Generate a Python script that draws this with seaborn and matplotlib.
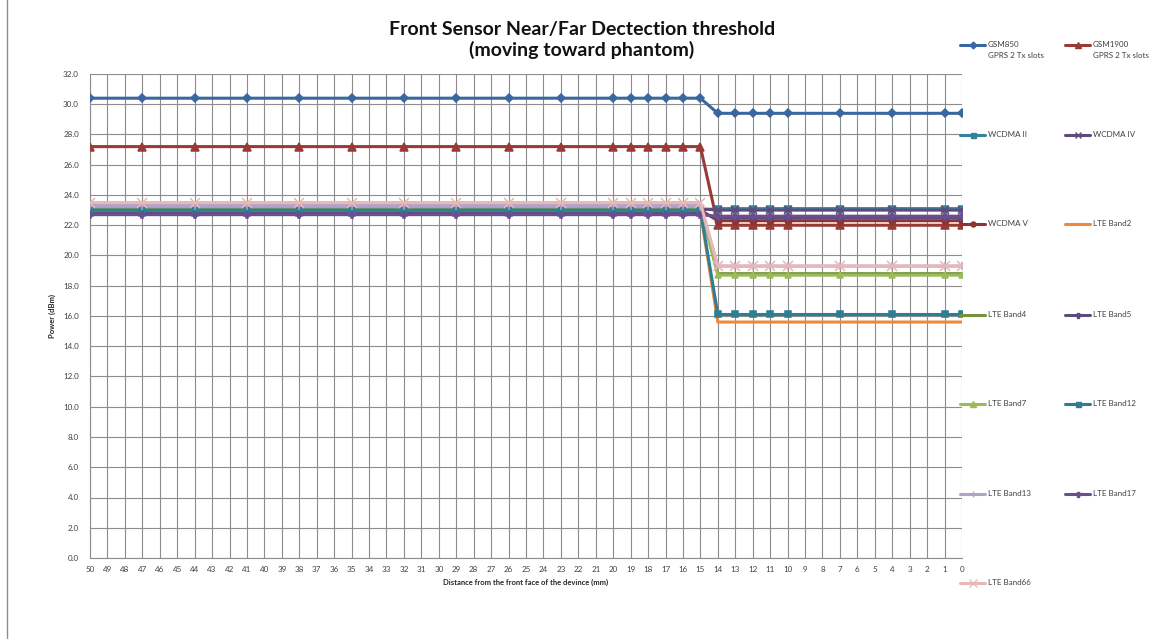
import matplotlib
matplotlib.use("Agg")
import matplotlib.pyplot as plt
from matplotlib.lines import Line2D
from matplotlib.ticker import MultipleLocator, FormatStrFormatter
import pandas as pd
import seaborn as sns

# distance points (mm) that were measured
distance = [50, 47, 44, 41, 38, 35, 32, 29, 26, 23, 20, 19, 18, 17, 16, 15,
            14, 13, 12, 11, 10, 7, 4, 1, 0]

gsm850 = [30.4, 30.4, 30.4, 30.4, 30.4, 30.4, 30.4, 30.4, 30.4, 30.4, 30.4, 30.4, 30.4, 30.4, 30.4, 30.4,
          29.4, 29.4, 29.4, 29.4, 29.4, 29.4, 29.4, 29.4, 29.4]
gsm1900 = [27.2, 27.2, 27.2, 27.2, 27.2, 27.2, 27.2, 27.2, 27.2, 27.2, 27.2, 27.2, 27.2, 27.2, 27.2, 27.2,
           22.0, 22.0, 22.0, 22.0, 22.0, 22.0, 22.0, 22.0, 22.0]
wcdma2 = [23.0, 23.0, 23.0, 23.0, 23.0, 23.0, 23.0, 23.0, 23.0, 23.0, 23.0, 23.0, 23.0, 23.0, 23.0, 23.0,
          23.1, 23.1, 23.1, 23.1, 23.1, 23.1, 23.1, 23.1, 23.1]
wcdma4 = [23.1, 23.1, 23.1, 23.1, 23.1, 23.1, 23.1, 23.1, 23.1, 23.1, 23.1, 23.1, 23.1, 23.1, 23.1, 23.1,
          23.0, 23.0, 23.0, 23.0, 23.0, 23.0, 23.0, 23.0, 23.0]
wcdma5 = [23.0, 23.0, 23.0, 23.0, 23.0, 23.0, 23.0, 23.0, 23.0, 23.0, 23.0, 23.0, 23.0, 23.0, 23.0, 23.0,
          22.3, 22.3, 22.3, 22.3, 22.3, 22.3, 22.3, 22.3, 22.3]
lte2 = [22.9, 22.9, 22.9, 22.9, 22.9, 22.9, 22.9, 22.9, 22.9, 22.9, 22.9, 22.9, 22.9, 22.9, 22.9, 22.9,
        15.6, 15.6, 15.6, 15.6, 15.6, 15.6, 15.6, 15.6, 15.6]
lte4 = [23.2, 23.2, 23.2, 23.2, 23.2, 23.2, 23.2, 23.2, 23.2, 23.2, 23.2, 23.2, 23.2, 23.2, 23.2, 23.2,
        18.8, 18.8, 18.8, 18.8, 18.8, 18.8, 18.8, 18.8, 18.8]
lte5 = [22.8, 22.8, 22.8, 22.8, 22.8, 22.8, 22.8, 22.8, 22.8, 22.8, 22.8, 22.8, 22.8, 22.8, 22.8, 22.8,
        22.5, 22.5, 22.5, 22.5, 22.5, 22.5, 22.5, 22.5, 22.5]
lte7 = [23.2, 23.2, 23.2, 23.2, 23.2, 23.2, 23.2, 23.2, 23.2, 23.2, 23.2, 23.2, 23.2, 23.2, 23.2, 23.2,
        18.7, 18.7, 18.7, 18.7, 18.7, 18.7, 18.7, 18.7, 18.7]
lte12 = [23.0, 23.0, 23.0, 23.0, 23.0, 23.0, 23.0, 23.0, 23.0, 23.0, 23.0, 23.0, 23.0, 23.0, 23.0, 23.0,
         16.1, 16.1, 16.1, 16.1, 16.1, 16.1, 16.1, 16.1, 16.1]
lte13 = [23.3, 23.3, 23.3, 23.3, 23.3, 23.3, 23.3, 23.3, 23.3, 23.3, 23.3, 23.3, 23.3, 23.3, 23.3, 23.3,
         19.3, 19.3, 19.3, 19.3, 19.3, 19.3, 19.3, 19.3, 19.3]
lte17 = [22.7, 22.7, 22.7, 22.7, 22.7, 22.7, 22.7, 22.7, 22.7, 22.7, 22.7, 22.7, 22.7, 22.7, 22.7, 22.7,
         22.6, 22.6, 22.6, 22.6, 22.6, 22.6, 22.6, 22.6, 22.6]
lte66 = [23.5, 23.5, 23.5, 23.5, 23.5, 23.5, 23.5, 23.5, 23.5, 23.5, 23.5, 23.5, 23.5, 23.5, 23.5, 23.5,
         19.3, 19.3, 19.3, 19.3, 19.3, 19.3, 19.3, 19.3, 19.3]

names = ["GSM850\nGPRS 2 Tx slots", "GSM1900\nGPRS 2 Tx slots", "WCDMA II", "WCDMA IV", "WCDMA V",
         "LTE Band2", "LTE Band4", "LTE Band5", "LTE Band7", "LTE Band12", "LTE Band13",
         "LTE Band17", "LTE Band66"]
series = [gsm850, gsm1900, wcdma2, wcdma4, wcdma5, lte2, lte4, lte5, lte7, lte12, lte13, lte17, lte66]

colors = ["#3B67A0", "#9A3A37", "#31849B", "#604A7B", "#8E3330", "#F0883A", "#77933C",
          "#5F4A7E", "#9BBB59", "#2E7D91", "#B3A2C7", "#6A4E8E", "#E6B9B8"]
markers = ["D", "^", "s", "x", "o", None, None, "P", "^", "s", "+", "P", "x"]
msizes = [4.3, 5.5, 4.5, 6, 4.5, 0, 0, 4.5, 5, 4.5, 6, 4.5, 7]

sns.set_style("white")
plt.rcParams["font.family"] = ["Lato", "DejaVu Sans"]

fig = plt.figure(figsize=(11.49, 6.39), dpi=100)
ax = fig.add_axes([90 / 1149, 1 - 558 / 639, (962 - 90) / 1149, (558 - 74) / 639])

for name, vals, c, m, ms in zip(names, series, colors, markers, msizes):
    df = pd.DataFrame({"x": distance, "y": vals})
    sns.lineplot(data=df, x="x", y="y", ax=ax, color=c, linewidth=2.2,
                 marker=m, markersize=ms, markeredgecolor=c, markeredgewidth=1.1,
                 sort=False, zorder=3)

ax.set_xlim(50, 0)
ax.set_ylim(0, 32)
ax.xaxis.set_major_locator(MultipleLocator(1))
ax.yaxis.set_major_locator(MultipleLocator(2))
ax.yaxis.set_minor_locator(MultipleLocator(1))
ax.yaxis.set_major_formatter(FormatStrFormatter("%.1f"))
ax.grid(True, which="major", color="#8c8c8c", linewidth=0.8)
ax.set_axisbelow(True)
for s in ["top", "right"]:
    ax.spines[s].set_visible(False)
for s in ["left", "bottom"]:
    ax.spines[s].set_color("#8c8c8c")
    ax.spines[s].set_linewidth(0.8)
ax.tick_params(axis="both", which="major", length=4, width=0.8, color="#8c8c8c",
               labelsize=5.8, labelcolor="#404040", direction="inout")
ax.tick_params(axis="y", which="minor", length=3, width=0.8, color="#8c8c8c", direction="inout")
ax.tick_params(axis="x", pad=4)
ax.tick_params(axis="y", pad=6)

ax.set_xlabel("Distance from the front face of the devince (mm)", fontsize=5.5,
              fontweight="bold", labelpad=4)
ax.set_ylabel("Power (dBm)", fontsize=5.5, fontweight="bold", labelpad=5)

fig.text(582 / 1149, 1 - 40 / 639, "Front Sensor Near/Far Dectection threshold\n(moving toward phantom)",
         ha="center", va="center", fontsize=14, fontweight="bold", color="#111111", linespacing=1.25)

# legend on the right, two columns like the original
rows_y = [45, 135, 224, 315, 404, 494, 583]
col_x = [960, 1065]
for i, (name, c, m, ms) in enumerate(zip(names, colors, markers, msizes)):
    r, k = divmod(i, 2)
    x0 = col_x[k]
    yf = 1 - rows_y[r] / 639
    xs = [x0 / 1149, (x0 + 12.5) / 1149, (x0 + 25) / 1149]
    fig.add_artist(Line2D(xs, [yf, yf, yf], transform=fig.transFigure, color=c, linewidth=2.2,
                          marker=m if m else "", markersize=ms * 0.8, markeredgecolor=c,
                          markevery=[1]))
    fig.text((x0 + 28) / 1149, yf + 4 / 639, name, fontsize=5.8, color="#404040",
             ha="left", va="top", linespacing=1.6)

# left edge frame line
fig.add_artist(Line2D([7 / 1149, 7 / 1149], [0, 1], transform=fig.transFigure,
                      color="#8c8c8c", linewidth=1))

fig.savefig("out.png", dpi=100)
